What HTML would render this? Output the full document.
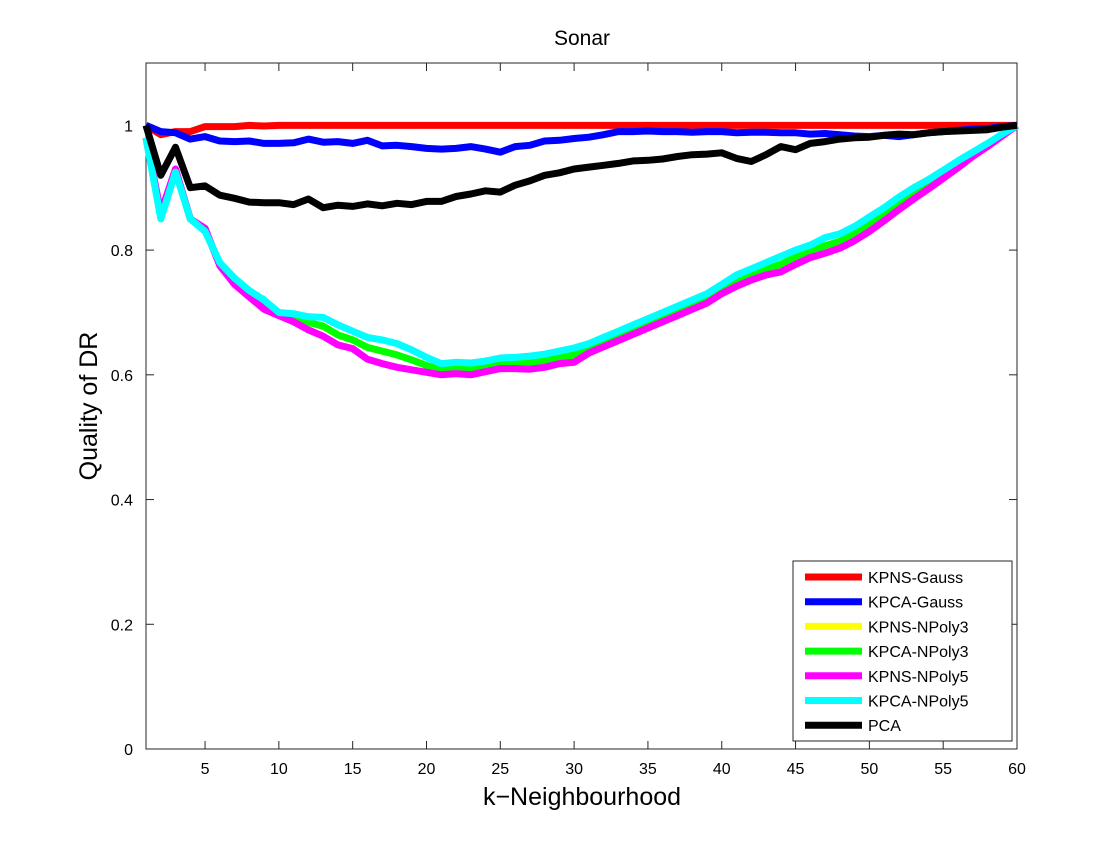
<!DOCTYPE html>
<html><head><meta charset="utf-8"><style>
body{margin:0;background:#fff;}
svg text{font-family:"Liberation Sans",sans-serif;}
</style></head><body>
<svg id="chart" width="1120" height="840" xmlns="http://www.w3.org/2000/svg">
<rect width="1120" height="840" fill="#fff"/>
<g id="plot"></g>
</svg>
<script>
const kValues=[];for(let i=1;i<=60;i++)kValues.push(i);
const kpnsGauss=[1.0,0.985,0.99,0.99,0.998,0.998,0.998,1.0,0.999,1,1,1,1,1,1,1,1,1,1,1,1,1,1,1,1,1,1,1,1,1,1,1,1,1,1,1,1,1,1,1,1,1,1,1,1,1,1,1,1,1,1,1,1,1,1,1,1,1,1,1];
const kpcaGauss=[1.0,0.99,0.988,0.978,0.982,0.975,0.974,0.975,0.971,0.971,0.972,0.978,0.973,0.974,0.971,0.976,0.967,0.968,0.966,0.963,0.962,0.963,0.966,0.962,0.957,0.966,0.968,0.975,0.976,0.979,0.981,0.985,0.99,0.99,0.991,0.99,0.99,0.989,0.99,0.99,0.988,0.989,0.989,0.988,0.988,0.986,0.987,0.985,0.983,0.982,0.984,0.982,0.985,0.988,0.99,0.992,0.994,0.995,0.998,1.0];
const kpnsNPoly3=[0.98,0.855,0.928,0.85,0.832,0.778,0.75,0.73,0.712,0.697,0.692,0.684,0.678,0.664,0.656,0.644,0.638,0.632,0.624,0.615,0.608,0.61,0.609,0.613,0.618,0.618,0.619,0.622,0.627,0.632,0.642,0.652,0.662,0.672,0.682,0.692,0.702,0.712,0.722,0.737,0.751,0.761,0.77,0.777,0.789,0.798,0.807,0.814,0.826,0.841,0.857,0.875,0.891,0.905,0.921,0.937,0.953,0.968,0.984,1.0];
const kpcaNPoly3=kpnsNPoly3.slice();
const kpnsNPoly5=[0.98,0.86,0.93,0.85,0.835,0.775,0.745,0.725,0.705,0.695,0.685,0.672,0.662,0.648,0.642,0.625,0.618,0.612,0.608,0.604,0.6,0.602,0.6,0.605,0.61,0.61,0.609,0.612,0.618,0.62,0.635,0.645,0.655,0.665,0.675,0.685,0.695,0.705,0.715,0.73,0.742,0.752,0.76,0.765,0.777,0.788,0.795,0.803,0.815,0.83,0.847,0.865,0.882,0.898,0.915,0.932,0.95,0.966,0.983,1.0];
const kpcaNPoly5=[0.98,0.85,0.925,0.85,0.83,0.78,0.755,0.735,0.72,0.70,0.698,0.693,0.692,0.68,0.67,0.66,0.656,0.65,0.64,0.628,0.618,0.62,0.619,0.622,0.627,0.628,0.63,0.633,0.638,0.643,0.65,0.66,0.67,0.68,0.69,0.70,0.71,0.72,0.73,0.745,0.76,0.77,0.78,0.79,0.80,0.808,0.82,0.826,0.838,0.853,0.868,0.885,0.9,0.913,0.928,0.943,0.957,0.971,0.986,1.0];
const pca=[1.0,0.92,0.965,0.90,0.903,0.888,0.883,0.877,0.876,0.876,0.873,0.882,0.868,0.872,0.870,0.874,0.871,0.875,0.873,0.878,0.878,0.886,0.890,0.895,0.893,0.904,0.911,0.920,0.924,0.930,0.933,0.936,0.939,0.943,0.944,0.946,0.950,0.953,0.954,0.956,0.947,0.942,0.953,0.966,0.961,0.971,0.974,0.978,0.980,0.981,0.984,0.986,0.985,0.988,0.990,0.991,0.992,0.993,0.997,1.0];
const seriesNames=["KPNS-Gauss","KPCA-Gauss","KPNS-NPoly3","KPCA-NPoly3","KPNS-NPoly5","KPCA-NPoly5","PCA"];
const seriesColors=["#ff0000","#0000ff","#ffff00","#00ff00","#ff00ff","#00ffff","#000000"];
const seriesData=[kpnsGauss,kpcaGauss,kpnsNPoly3,kpcaNPoly3,kpnsNPoly5,kpcaNPoly5,pca];
const xTicks=[5,10,15,20,25,30,35,40,45,50,55,60];
const yTicks=[0,0.2,0.4,0.6,0.8,1];
const yTickLabels=["0","0.2","0.4","0.6","0.8","1"];

const L=146,R=1017,T=63,B=749;
const X=v=>L+(v-1)/(60-1)*(R-L);
const Y=v=>B-v/1.1*(B-T);
const NS="http://www.w3.org/2000/svg";
const g=document.getElementById('plot');
function mk(tag,attrs,parent){const e=document.createElementNS(NS,tag);for(const k in attrs)e.setAttribute(k,attrs[k]);(parent||g).appendChild(e);return e;}

const frame=mk('rect',{x:L,y:T,width:R-L,height:B-T,fill:'#fff',stroke:'#262626','stroke-width':1});



xTicks.forEach(t=>{
  const x=X(t);
  mk('line',{x1:x,y1:B,x2:x,y2:B-8,stroke:'#262626'});
  mk('line',{x1:x,y1:T,x2:x,y2:T+8,stroke:'#262626'});
  const tx=mk('text',{x:x,y:B+25,'text-anchor':'middle','font-size':16,fill:'#000'});
  tx.textContent=t;
  
  
});
yTicks.forEach((t,i)=>{
  const y=Y(t);
  mk('line',{x1:L,y1:y,x2:L+8,y2:y,stroke:'#262626'});
  mk('line',{x1:R,y1:y,x2:R-8,y2:y,stroke:'#262626'});
  const tx=mk('text',{x:L-13,y:y+6,'text-anchor':'end','font-size':16,fill:'#000'});
  tx.textContent=yTickLabels[i];
  
  
});

seriesData.forEach((d,si)=>{
  const pts=d.map((v,i)=>X(kValues[i]).toFixed(1)+','+Y(v).toFixed(1)).join(' ');
  const pl=mk('polyline',{points:pts,fill:'none',stroke:seriesColors[si],'stroke-width':7,'stroke-linejoin':'round'});
  
  
});

const title=mk('text',{x:582,y:45,'text-anchor':'middle','font-size':21,fill:'#000'});
title.textContent='Sonar';


const xl=mk('text',{x:582,y:805,'text-anchor':'middle','font-size':25,fill:'#000'});
xl.textContent='k\u2212Neighbourhood';


const yl=mk('text',{x:0,y:0,'text-anchor':'middle','font-size':25,fill:'#000',transform:'translate(97,406) rotate(-90)'});
yl.textContent='Quality of DR';



const lg=mk('g',{});


mk('rect',{x:793,y:561,width:219,height:180,fill:'#fff',stroke:'#262626'},lg);
seriesNames.forEach((n,i)=>{
  const y=577+i*24.7;
  const e=mk('g',{},lg);
  
  
  mk('line',{x1:805,y1:y,x2:862,y2:y,stroke:seriesColors[i],'stroke-width':7},e);
  const t=mk('text',{x:868,y:y+6,'font-size':16,fill:'#000'},e);
  t.textContent=n;
});
</script>
</body></html>
